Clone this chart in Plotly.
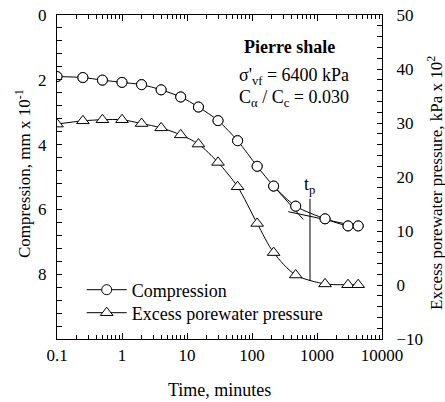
import plotly.graph_objects as go
import math

# ---- data ----
time_min = [0.1, 0.25, 0.5, 1, 2, 4, 8, 15, 30, 60, 120, 215, 470, 1330, 3000, 4300]
compression = [1.90, 1.93, 2.01, 2.08, 2.15, 2.31, 2.53, 2.84, 3.26, 3.88, 4.67, 5.28, 5.90, 6.29, 6.51, 6.51]
porewater = [29.8, 30.4, 30.6, 30.6, 29.9, 29.1, 27.8, 26.1, 22.7, 18.2, 11.4, 6.0, 1.85, 0.2, 0.05, 0.05]

# construction lines (time, compression)
primary_tangent_t = [215, 615]
primary_tangent_y = [5.28, 6.31]
secondary_tangent_t = [361, 4300]
secondary_tangent_y = [6.07, 6.53]
tp_time = 780
tp_line_y = [5.67, 8.21]

x_tickvals = [0.1, 1, 10, 100, 1000, 10000]
x_ticktext = ["0.1", "1", "10", "100", "1000", "10000"]
y_tickvals = [0, 2, 4, 6, 8]
y2_tickvals = [-10, 0, 10, 20, 30, 40, 50]

FONT = "Liberation Serif, Times New Roman, serif"

def F(size=18):
    return dict(family=FONT, size=size, color="black")

W, H = 445, 402
PL, PR, PT, PB = 57, 382, 15, 339   # plot-area edges in page pixels

fig = go.Figure()

fig.add_trace(go.Scatter(
    x=time_min, y=compression, name="Compression", mode="lines+markers",
    line=dict(color="black", width=1, shape="spline", smoothing=0.8),
    marker=dict(symbol="circle", size=10, color="white", line=dict(color="black", width=1)),
    yaxis="y", legend="legend"))

fig.add_trace(go.Scatter(
    x=time_min, y=porewater, name="Excess porewater pressure", mode="lines+markers",
    line=dict(color="black", width=1, shape="spline", smoothing=0.8),
    marker=dict(symbol="triangle-up", size=11, color="white", line=dict(color="black", width=1)),
    yaxis="y2", legend="legend2"))

fig.add_trace(go.Scatter(x=primary_tangent_t, y=primary_tangent_y, mode="lines",
                         line=dict(color="black", width=1), showlegend=False, hoverinfo="skip"))
fig.add_trace(go.Scatter(x=secondary_tangent_t, y=secondary_tangent_y, mode="lines",
                         line=dict(color="black", width=1), showlegend=False, hoverinfo="skip"))
fig.add_trace(go.Scatter(x=[tp_time, tp_time], y=tp_line_y, mode="lines",
                         line=dict(color="black", width=1), showlegend=False, hoverinfo="skip"))

# re-draw markers on top of construction lines
fig.add_trace(go.Scatter(
    x=time_min, y=compression, mode="markers", showlegend=False, hoverinfo="skip",
    marker=dict(symbol="circle", size=10, color="white", line=dict(color="black", width=1))))

def px_x(px):
    return (px - PL) / float(PR - PL)

def px_y(py):
    return (PB - py) / float(PB - PT)

fig.update_layout(
    width=W, height=H,
    margin=dict(l=PL, r=W - PR, t=PT, b=H - PB, autoexpand=False),
    paper_bgcolor="white", plot_bgcolor="white",
    font=F(),
    showlegend=True,
    legend=dict(x=px_x(81.7), y=px_y(290), xanchor="left", yanchor="middle", itemwidth=40,
                bgcolor="rgba(0,0,0,0)", font=F(18)),
    legend2=dict(x=px_x(81.7), y=px_y(313), xanchor="left", yanchor="middle", itemwidth=40,
                 bgcolor="rgba(0,0,0,0)", font=F(18)),
    xaxis=dict(
        type="log", range=[-1, 4], automargin=False,
        tickvals=x_tickvals, ticktext=x_ticktext, tickfont=F(17),
        ticks="inside", ticklen=6, tickcolor="black",
        showline=True, linecolor="black", linewidth=1, mirror="ticks",
        showgrid=False, zeroline=False,
        minor=dict(ticks="inside", ticklen=4, tickcolor="black", dtick="D1", showgrid=False),
        ticklabelstandoff=1, ticklabeloverflow="allow",
    ),
    yaxis=dict(
        range=[10, 0], tickvals=y_tickvals, tickfont=F(17), automargin=False,
        ticks="inside", ticklen=5, tickcolor="black",
        showline=True, linecolor="black", linewidth=1,
        showgrid=False, zeroline=False,
        minor=dict(ticks="inside", ticklen=5, tickcolor="black", dtick=0.4, showgrid=False),
        ticklabelstandoff=6, ticklabeloverflow="allow",
    ),
    yaxis2=dict(
        overlaying="y", side="right", range=[-10, 50], tickvals=y2_tickvals, tickfont=F(17),
        automargin=False,
        ticks="inside", ticklen=5, tickcolor="black",
        showline=True, linecolor="black", linewidth=1,
        showgrid=False, zeroline=False,
        minor=dict(ticks="inside", ticklen=5, tickcolor="black", dtick=2, showgrid=False),
        ticklabelstandoff=10, ticklabeloverflow="allow",
    ),
)

# axis titles
fig.add_annotation(text="Time, minutes", x=px_x(220), y=px_y(390), xref="paper", yref="paper",
                   showarrow=False, xanchor="center", yanchor="middle", font=F(18))
fig.add_annotation(text="Compression, mm x 10<sup>-1</sup>", x=px_x(23), y=px_y(174),
                   xref="paper", yref="paper", textangle=-90,
                   showarrow=False, xanchor="center", yanchor="middle", font=F(17))
fig.add_annotation(text="Excess porewater pressure, kPa x 10<sup>2</sup>", x=px_x(435), y=px_y(183),
                   xref="paper", yref="paper", textangle=-90,
                   showarrow=False, xanchor="center", yanchor="middle", font=F(17))

# in-plot labels
fig.add_annotation(text="<b>Pierre shale</b>", x=px_x(289), y=px_y(47), xref="paper", yref="paper",
                   showarrow=False, xanchor="center", yanchor="middle", font=F(18))
fig.add_annotation(text="σ'<sub>vf</sub> = 6400 kPa", x=px_x(294), y=px_y(77), xref="paper", yref="paper",
                   showarrow=False, xanchor="center", yanchor="middle", font=F(18))
fig.add_annotation(text="C<sub>α</sub> / C<sub>c</sub> = 0.030", x=px_x(294), y=px_y(98), xref="paper", yref="paper",
                   showarrow=False, xanchor="center", yanchor="middle", font=F(18))
fig.add_annotation(text="t<sub>p</sub>", x=math.log10(tp_time), y=px_y(185), xref="x", yref="paper",
                   showarrow=False, xanchor="center", yanchor="middle", font=F(18))

# the page's default body margin would shift the figure by 8px; remove it
fig.write_html("out.html", config={"displayModeBar": False},
               post_script="document.body.style.margin='0';document.body.style.padding='0';")
